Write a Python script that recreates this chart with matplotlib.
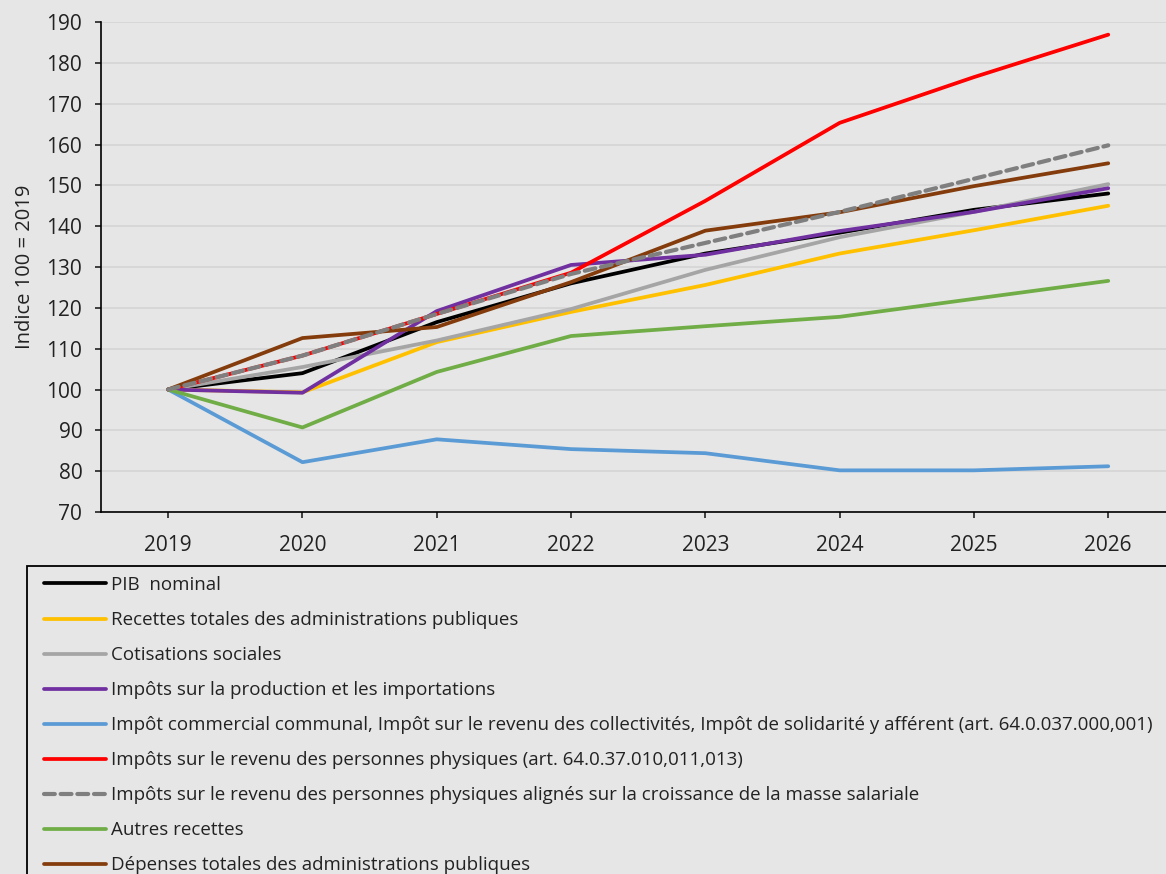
import matplotlib.pyplot as plt
from matplotlib.patches import Rectangle

years = [2019, 2020, 2021, 2022, 2023, 2024, 2025, 2026]

pib = [100, 104.0, 116.5, 126.0, 133.3, 138.4, 144.0, 148.0]
recettes = [100, 99.3, 111.6, 119.0, 125.6, 133.3, 139.0, 145.0]
cotisations = [100, 105.5, 112.0, 119.7, 129.3, 137.3, 143.5, 150.3]
impots_prod = [100, 99.2, 119.2, 130.5, 133.0, 138.8, 143.5, 149.3]
impot_communal = [100, 82.2, 87.8, 85.4, 84.4, 80.2, 80.2, 81.2]
ipp = [100, 108.3, 118.5, 128.6, 146.2, 165.3, 176.5, 186.9]
ipp_masse = [100, 108.3, 118.5, 128.3, 135.9, 143.5, 151.6, 159.8]
autres = [100, 90.7, 104.3, 113.1, 115.5, 117.8, 122.2, 126.6]
depenses = [100, 112.6, 115.3, 126.3, 138.9, 143.4, 149.8, 155.4]

series = [
    ("PIB  nominal", pib, "#000000", "-"),
    ("Recettes totales des administrations publiques", recettes, "#ffc000", "-"),
    ("Cotisations sociales", cotisations, "#a5a5a5", "-"),
    ("Impôts sur la production et les importations", impots_prod, "#7030a0", "-"),
    ("Impôt commercial communal, Impôt sur le revenu des collectivités, "
     "Impôt de solidarité y afférent (art. 64.0.037.000,001)", impot_communal, "#5b9bd5", "-"),
    ("Impôts sur le revenu des personnes physiques (art. 64.0.37.010,011,013)", ipp, "#ff0000", "-"),
    ("Impôts sur le revenu des personnes physiques alignés sur la croissance "
     "de la masse salariale", ipp_masse, "#7f7f7f", "--"),
    ("Autres recettes", autres, "#70ad47", "-"),
    ("Dépenses totales des administrations publiques", depenses, "#843c0c", "-"),
]

plt.rcParams['font.family'] = ['Open Sans', 'DejaVu Sans']
bg = "#e6e6e6"
W, H = 1166, 874

fig = plt.figure(figsize=(W / 100, H / 100), dpi=100, facecolor=bg)
ax = fig.add_axes([101 / W, 1 - 512 / H, (W - 101) / W, (512 - 22) / H])
ax.set_facecolor(bg)

handles = []
for label, vals, color, ls in series:
    if ls == "--":
        h, = ax.plot(years, vals, color=color, lw=3, ls=(0, (2.6, 1.4)),
                     dash_capstyle="round", label=label, zorder=3)
    else:
        h, = ax.plot(years, vals, color=color, lw=2.7, solid_capstyle="round",
                     label=label, zorder=2)
    handles.append(h)

ax.set_xlim(2018.5, 2018.5 + (W - 101) / 134.3)
ax.set_ylim(70, 190)
ax.set_yticks(range(70, 191, 10))
ax.set_xticks(years)
ax.grid(axis="y", color="#d6d6d6", lw=1.3)
ax.set_axisbelow(True)
for s in ["top", "right"]:
    ax.spines[s].set_visible(False)
ax.spines["left"].set_linewidth(1.2)
ax.spines["bottom"].set_linewidth(1.2)
ax.tick_params(axis="both", labelsize=15, colors="#222222", length=4.5, width=1.2)
ax.tick_params(axis="y", pad=9)
ax.tick_params(axis="x", pad=12)
ax.set_ylabel("Indice 100 = 2019", fontsize=14.5, color="#222222", labelpad=8)

# legend frame (cut by the figure edge, as in the original)
fig.patches.append(Rectangle((27 / W, -0.1), 1.2, 1 - 566 / H + 0.1,
                             transform=fig.transFigure, facecolor="none",
                             edgecolor="black", lw=1.3, clip_on=False))

leg = fig.legend(handles=handles, loc="upper left",
                 bbox_to_anchor=(44 / W, 1 - 576 / H),
                 fontsize=13.5, frameon=False, handlelength=3.3, handletextpad=0.27,
                 labelspacing=0.91, borderpad=0, borderaxespad=0)
for t in leg.get_texts():
    t.set_color("#222222")

fig.savefig("out.png", dpi=100, facecolor=bg)
